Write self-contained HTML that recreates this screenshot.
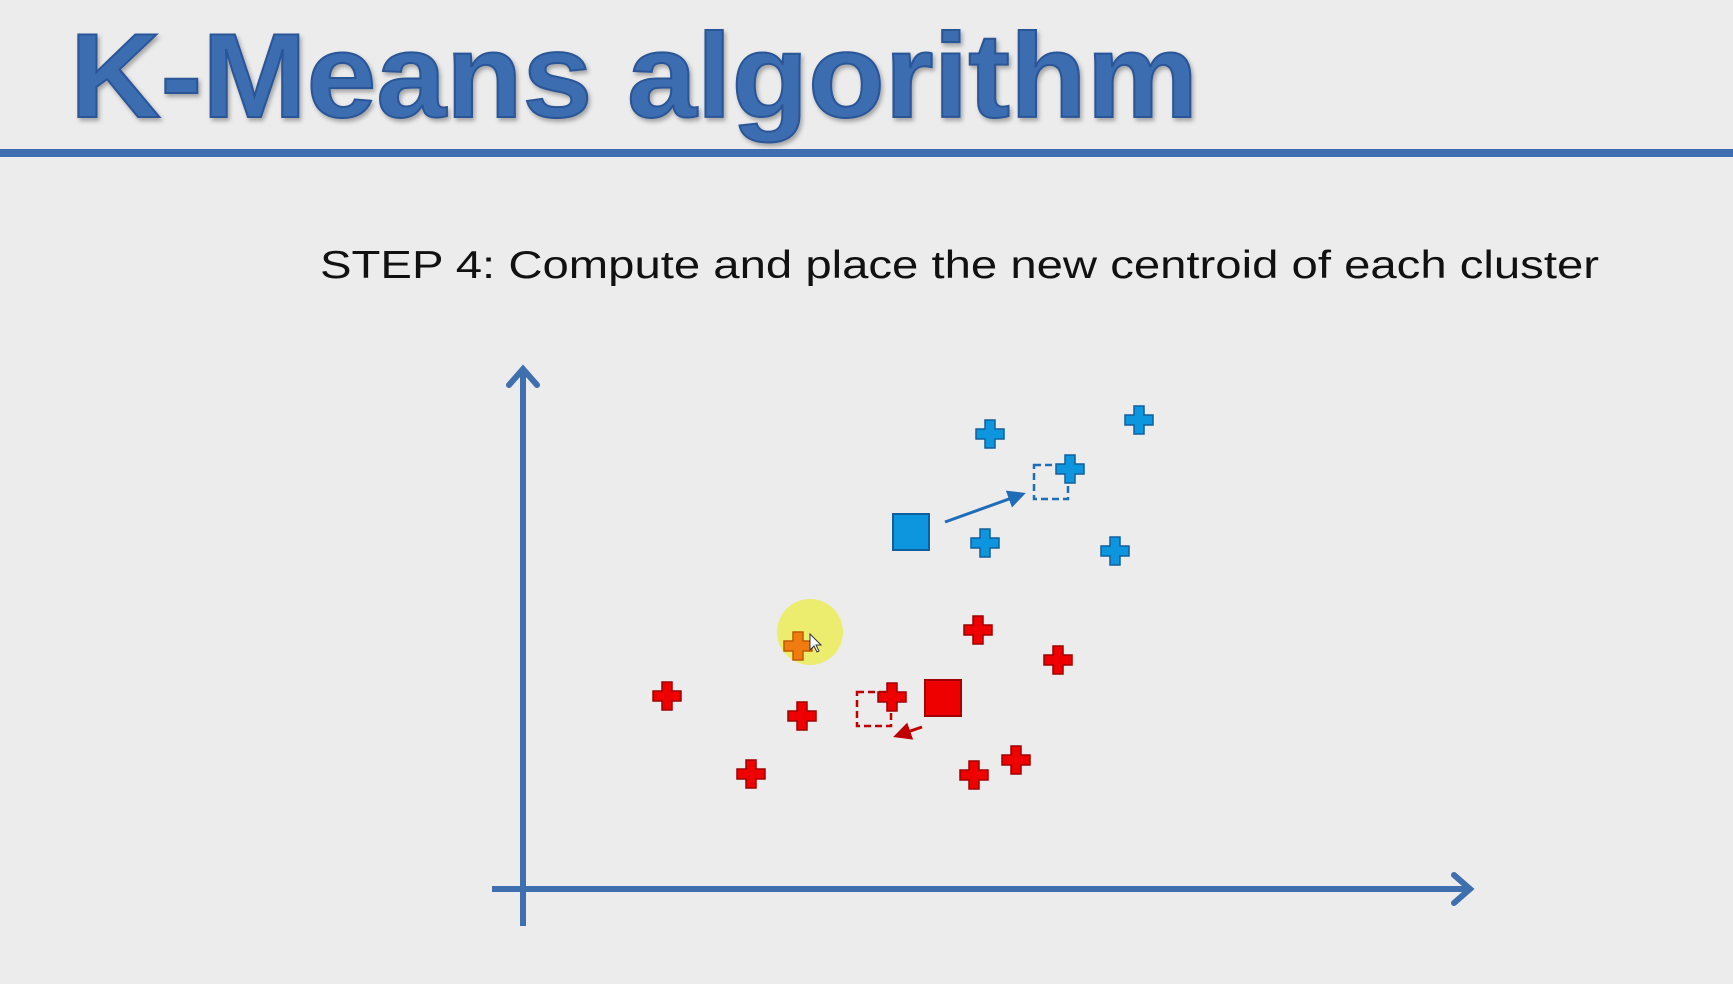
<!DOCTYPE html>
<html><head><meta charset="utf-8"><style>
html,body{margin:0;padding:0;background:#ececec;}
svg{display:block;}
</style></head><body>
<svg id="chart" width="1733" height="984" viewBox="0 0 1733 984" xmlns="http://www.w3.org/2000/svg">
<defs>
<filter id="sh" x="-5%" y="-5%" width="110%" height="120%"><feDropShadow dx="2" dy="3" stdDeviation="2" flood-color="#000" flood-opacity="0.3"/></filter>
<marker id="ab" markerWidth="6" markerHeight="6" refX="5" refY="3" orient="auto"><path d="M0,0 L6,3 L0,6 z" fill="#1f6cb8"/></marker>
<marker id="ar" markerWidth="6" markerHeight="6" refX="5" refY="3" orient="auto"><path d="M0,0 L6,3 L0,6 z" fill="#c00000"/></marker>
</defs>
<rect width="1733" height="984" fill="#ececec"/>
<text x="70" y="117" font-family="Liberation Sans, sans-serif" font-weight="bold" font-size="120" fill="#3e6db1" stroke="#2a5596" stroke-width="2" textLength="1128" lengthAdjust="spacingAndGlyphs" filter="url(#sh)">K-Means algorithm</text>
<rect x="0" y="149" width="1733" height="8" fill="#3e6db1"/>
<text x="320" y="278" font-family="Liberation Sans, sans-serif" font-size="39" fill="#111" textLength="1279" lengthAdjust="spacingAndGlyphs">STEP 4: Compute and place the new centroid of each cluster</text>
<g id="axes">
<line x1="523" y1="926" x2="523" y2="372" stroke="#3f6fae" stroke-width="6"/>
<polyline points="509,385 523,369 537,385" fill="none" stroke="#3f6fae" stroke-width="6" stroke-linecap="round"/>
<line x1="492" y1="889" x2="1468" y2="889" stroke="#3f6fae" stroke-width="6"/>
<polyline points="1454,875 1470,889 1454,903" fill="none" stroke="#3f6fae" stroke-width="6" stroke-linecap="round"/>
</g>
<g id="marks"></g>
</svg>
<script>
const blueX=[46.7,61.6,54.7,46.2,59.2];
const blueY=[45.4,46.8,41.9,34.5,33.7];
const redX=[45.5,53.5,14.4,27.9,22.8,36.9,45.1,49.3];
const redY=[25.8,22.8,19.2,17.2,11.4,19.1,11.3,12.8];
const highlightX=[27.5];
const highlightY=[24.2];
const blueOld=[38.8,35.6], blueNew=[52.8,40.6];
const redOld=[42.0,19.0], redNew=[35.1,17.9];
const X0=523,Y0=888,K=10;
function xs(v){return X0+v*K;}
function ys(v){return Y0-v*K;}
const NS='http://www.w3.org/2000/svg';
const g=document.getElementById('marks');
function mk(t,a){const e=document.createElementNS(NS,t);for(const k in a)e.setAttribute(k,a[k]);g.appendChild(e);return e;}
function plus(cx,cy,fill,stroke){const s=14,w=5;
const d=`M${cx-w},${cy-s}H${cx+w}V${cy-w}H${cx+s}V${cy+w}H${cx+w}V${cy+s}H${cx-w}V${cy+w}H${cx-s}V${cy-w}H${cx-w}Z`;
return mk('path',{d:d,fill:fill,stroke:stroke,'stroke-width':1.5});}
// old centroid squares & arrows
const bs=mk('rect',{x:xs(blueNew[0])-17,y:ys(blueNew[1])-17,width:34,height:34,fill:'none',stroke:'#1f6cb8','stroke-width':2.5,'stroke-dasharray':'7,4'});


const rs=mk('rect',{x:xs(redNew[0])-17,y:ys(redNew[1])-17,width:34,height:34,fill:'none',stroke:'#c00000','stroke-width':2.5,'stroke-dasharray':'7,4'});


blueX.forEach((v,i)=>{const p=plus(xs(v),ys(blueY[i]),'#0d95dd','#10609e');

});
const glow=mk('circle',{cx:xs(highlightX[0])+12,cy:ys(highlightY[0])-14,r:33,fill:'#ecec60',opacity:0.9});


redX.forEach((v,i)=>{const p=plus(xs(v),ys(redY[i]),'#ee0000','#a00000');

});
highlightX.forEach((v,i)=>{const p=plus(xs(v),ys(highlightY[i]),'#f07c10','#c05a00');

});
const bo=mk('rect',{x:xs(blueOld[0])-18,y:ys(blueOld[1])-18,width:36,height:36,fill:'#0d95dd',stroke:'#10609e','stroke-width':2});


const ro=mk('rect',{x:xs(redOld[0])-18,y:ys(redOld[1])-18,width:36,height:36,fill:'#ee0000',stroke:'#a00000','stroke-width':2});


const ba=mk('line',{x1:xs(blueOld[0])+34,y1:ys(blueOld[1])-10,x2:xs(blueNew[0])-28,y2:ys(blueNew[1])+12,stroke:'#1f6cb8','stroke-width':3,'marker-end':'url(#ab)'});


const ra=mk('line',{x1:xs(redOld[0])-21,y1:ys(redOld[1])+29,x2:xs(redNew[0])+22,y2:ys(redNew[1])+27,stroke:'#c00000','stroke-width':3,'marker-end':'url(#ar)'});


const cur=mk('path',{d:`M${xs(highlightX[0])+12},${ys(highlightY[0])-12} l0,16 l4,-4 l3,6 l2,-1 l-3,-6 l5,0 z`,fill:'#fff',stroke:'#333','stroke-width':1});


</script>
</body></html>
